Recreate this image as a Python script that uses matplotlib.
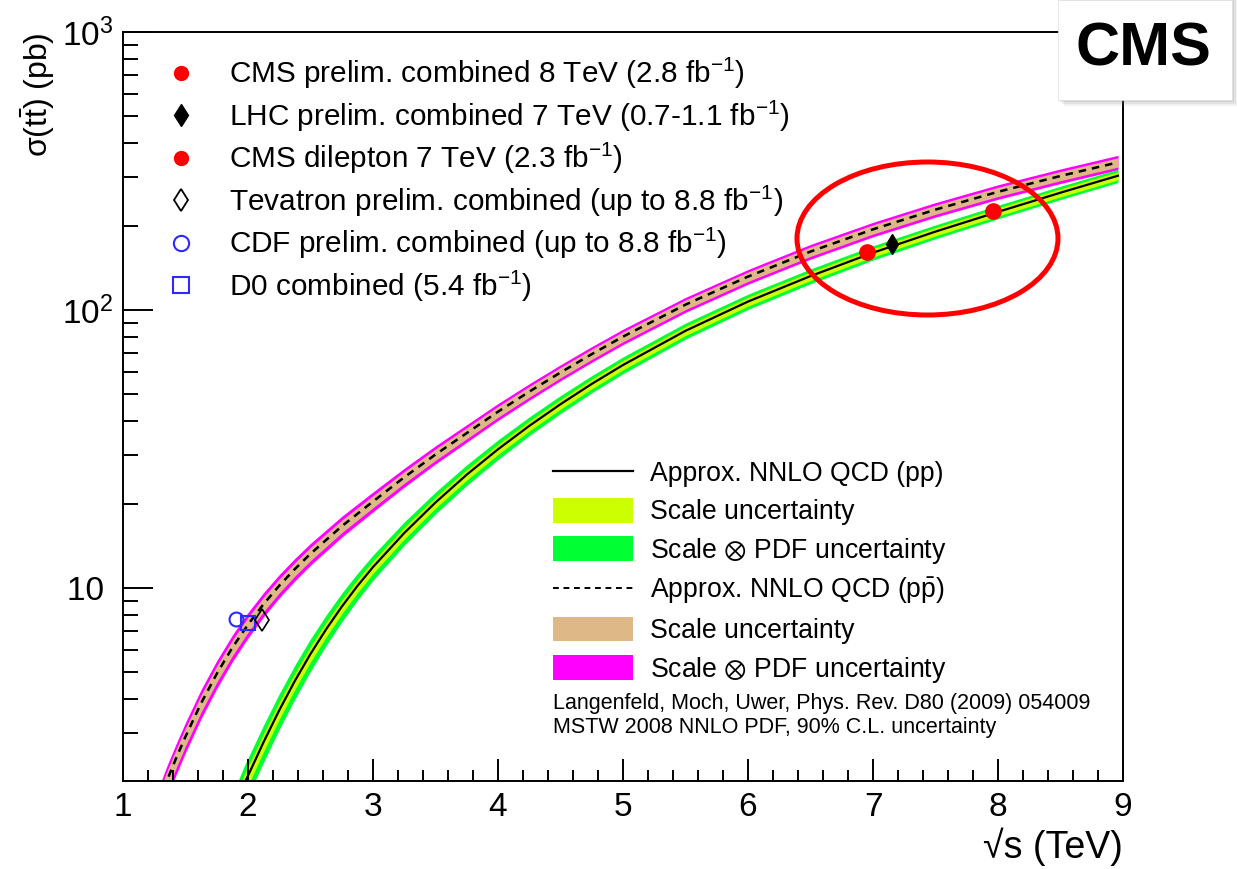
import numpy as np
import matplotlib
matplotlib.use("Agg")
import matplotlib.pyplot as plt
from matplotlib.lines import Line2D
from matplotlib.patches import Patch, Ellipse, Rectangle
from matplotlib.ticker import MultipleLocator, FixedLocator, FixedFormatter, LogLocator, NullFormatter

plt.rcParams['font.family'] = ['Liberation Sans', 'DejaVu Sans']
plt.rcParams['mathtext.fontset'] = 'custom'
plt.rcParams['mathtext.rm'] = 'Liberation Sans'
plt.rcParams['mathtext.it'] = 'Liberation Sans:italic'
plt.rcParams['mathtext.bf'] = 'Liberation Sans:bold'
plt.rcParams['mathtext.sf'] = 'Liberation Sans'
plt.rcParams['mathtext.fallback'] = 'stixsans'

# ---------------- data ----------------
# pp theory (Approx. NNLO QCD), sqrt(s) in TeV, sigma in pb
pp_sqrts = [1.85, 1.9, 1.98, 2.0, 2.125, 2.25, 2.375, 2.5, 2.625, 2.75, 2.875, 3.0, 3.25, 3.5,
            3.75, 4.0, 4.25, 4.5, 4.75, 5.0, 5.5, 6.0, 6.5, 7.0, 7.5, 8.0, 8.5, 8.96]
pp_sigma = [1.48, 1.66, 2.02, 2.11, 2.79, 3.63, 4.63, 5.79, 7.10, 8.56, 10.16, 11.89, 15.76, 20.3,
            25.56, 31.54, 38.28, 45.81, 54.2, 63.39, 84.14, 107.2, 132.4, 160.7, 191.4, 225.4, 264.2, 304.1]
pp_scale_rel = [0.08, 0.08, 0.08, 0.078, 0.075, 0.072, 0.068, 0.065, 0.062, 0.058, 0.055, 0.052, 0.049, 0.046,
                0.044, 0.042, 0.041, 0.040, 0.040, 0.039, 0.038, 0.037, 0.036, 0.035, 0.035, 0.034, 0.034, 0.034]
pp_total_rel = [0.16, 0.16, 0.16, 0.158, 0.152, 0.146, 0.14, 0.133, 0.125, 0.118, 0.11, 0.104, 0.096, 0.09,
                0.085, 0.081, 0.077, 0.074, 0.071, 0.069, 0.066, 0.063, 0.061, 0.059, 0.057, 0.056, 0.055, 0.055]

# ppbar theory
ppbar_sqrts = [1.25, 1.30, 1.35, 1.425, 1.5, 1.625, 1.75, 1.875, 2.0, 2.125, 2.25, 2.375, 2.5, 2.75,
               3.0, 3.25, 3.5, 4.0, 4.25, 4.5, 4.75, 5.0, 5.5, 6.0, 6.5, 7.0, 7.5, 8.0, 8.5, 8.96]
ppbar_sigma = [1.53, 1.76, 2.02, 2.44, 2.92, 3.85, 4.91, 6.10, 7.38, 8.75, 10.19, 11.69, 13.27, 16.67,
               20.46, 25.0, 30.2, 43.05, 50.82, 59.57, 69.34, 80.17, 104.5, 131.8, 162.2, 195.0, 229.6,
               266.1, 303.4, 339.6]
ppbar_scale_rel = [0.08, 0.08, 0.08, 0.077, 0.074, 0.071, 0.068, 0.065, 0.062, 0.06, 0.058, 0.056, 0.055, 0.052,
                   0.05, 0.048, 0.047, 0.045, 0.044, 0.043, 0.042, 0.041, 0.04, 0.039, 0.039, 0.038, 0.038,
                   0.038, 0.038, 0.038]
ppbar_total_rel = [0.13, 0.13, 0.13, 0.127, 0.124, 0.12, 0.115, 0.11, 0.105, 0.1, 0.096, 0.093, 0.09, 0.086,
                   0.082, 0.078, 0.075, 0.07, 0.068, 0.066, 0.065, 0.064, 0.062, 0.061, 0.061, 0.06, 0.06,
                   0.06, 0.06, 0.06]

# measurements (x positions shifted for visibility as in the original)
cms8_x, cms8_y = [7.96], [227.0]
lhc7_x, lhc7_y = [7.15], [173.0]
cmsdil7_x, cmsdil7_y = [6.95], [162.0]
tev_x, tev_y = [2.11], [7.65]
cdf_x, cdf_y = [1.90], [7.7]
d0_x, d0_y = [2.00], [7.5]

meas_labels = [r"CMS prelim. combined 8 TeV (2.8 fb$^{-1}$)",
               r"LHC prelim. combined 7 TeV (0.7-1.1 fb$^{-1}$)",
               r"CMS dilepton 7 TeV (2.3 fb$^{-1}$)",
               r"Tevatron prelim. combined (up to 8.8 fb$^{-1}$)",
               r"CDF prelim. combined (up to 8.8 fb$^{-1}$)",
               r"D0 combined (5.4 fb$^{-1}$)"]
theory_labels = [r"Approx. NNLO QCD (pp)",
                 r"Scale uncertainty",
                 r"Scale $\otimes$ PDF uncertainty",
                 r"Approx. NNLO QCD (p$\bar{\mathrm{p}}$)",
                 r"Scale uncertainty",
                 r"Scale $\otimes$ PDF uncertainty"]
x_ticks = [1, 2, 3, 4, 5, 6, 7, 8, 9]
y_ticks = [10, 100, 1000]
y_ticklabels = ['10 ', r'$10^{2}$', r'$10^{3}$']

# ---------------- colours ----------------
c_yellow = '#ccff00'
c_green = '#00ff33'
c_tan = '#deb887'
c_mag = '#ff00ff'
c_blue = '#2b2bff'

W, H = 1237, 869
fig = plt.figure(figsize=(W / 100, H / 100), dpi=100)
ax = fig.add_axes([123 / W, 1 - 781 / H, 1000 / W, 749 / H])

def arr(a):
    return np.asarray(a, dtype=float)

# ppbar bands
ax.fill_between(arr(ppbar_sqrts), arr(ppbar_sigma) * (1 - arr(ppbar_total_rel)),
                arr(ppbar_sigma) * (1 + arr(ppbar_total_rel)), color=c_mag, lw=0, zorder=1)
ax.fill_between(arr(ppbar_sqrts), arr(ppbar_sigma) * (1 - arr(ppbar_scale_rel)),
                arr(ppbar_sigma) * (1 + arr(ppbar_scale_rel)), color=c_tan, lw=0, zorder=1.1)
# pp bands
ax.fill_between(arr(pp_sqrts), arr(pp_sigma) * (1 - arr(pp_total_rel)),
                arr(pp_sigma) * (1 + arr(pp_total_rel)), color=c_green, lw=0, zorder=1.2)
ax.fill_between(arr(pp_sqrts), arr(pp_sigma) * (1 - arr(pp_scale_rel)),
                arr(pp_sigma) * (1 + arr(pp_scale_rel)), color=c_yellow, lw=0, zorder=1.3)
# lines
ax.plot(pp_sqrts, pp_sigma, color='black', lw=1.6, zorder=2)
ax.plot(ppbar_sqrts, ppbar_sigma, color='black', lw=1.8, dashes=(3.0, 2.4), zorder=2)

# measurements
ax.plot(cdf_x, cdf_y, ls='none', marker='o', ms=10, mfc='none', mec=c_blue, mew=1.5, zorder=3)
ax.plot(d0_x, d0_y, ls='none', marker='s', ms=10, mfc='none', mec=c_blue, mew=1.5, zorder=3)
ax.plot(tev_x, tev_y, ls='none', marker='d', ms=11.5, mfc='none', mec='black', mew=1.2, zorder=3)
ax.plot(cmsdil7_x, cmsdil7_y, ls='none', marker='o', ms=11, color='red', zorder=3)
ax.plot(lhc7_x, lhc7_y, ls='none', marker='d', ms=10, color='black', zorder=3)
ax.plot(cms8_x, cms8_y, ls='none', marker='o', ms=11, color='red', zorder=3)

# axes
ax.set_yscale('log')
ax.set_xlim(1, 9)
ax.set_ylim(2.02, 1000)
ax.xaxis.set_major_locator(FixedLocator(x_ticks))
ax.xaxis.set_minor_locator(MultipleLocator(0.2))
ax.yaxis.set_major_locator(FixedLocator(y_ticks))
ax.yaxis.set_major_formatter(FixedFormatter(y_ticklabels))
ax.yaxis.set_minor_locator(LogLocator(base=10, subs=np.arange(2, 10)))
ax.yaxis.set_minor_formatter(NullFormatter())
for s in ax.spines.values():
    s.set_linewidth(1.4)
ax.tick_params(which='both', direction='in', top=False, right=False, width=1.4, labelsize=24)
ax.tick_params(axis='x', which='major', length=15.8, pad=8)
ax.tick_params(axis='x', which='minor', length=7.9)
ax.tick_params(axis='y', which='major', length=21.6, pad=7)
ax.tick_params(axis='y', which='minor', length=10.8)

ax.set_ylabel(r"σ(t$\bar{\mathrm{t}}$) (pb)", fontsize=23, loc='top')
ax.yaxis.set_label_coords(-0.066, 1.0)
ax.set_xlabel("√s (TeV)", fontsize=27, loc='right')
ax.xaxis.set_label_coords(1.0, -0.062)

# legend: measurements
h_meas = [Line2D([], [], ls='none', marker='o', ms=10, color='red'),
          Line2D([], [], ls='none', marker='d', ms=11.2, color='black'),
          Line2D([], [], ls='none', marker='o', ms=10, color='red'),
          Line2D([], [], ls='none', marker='d', ms=11.2, mfc='none', mec='black', mew=1.3),
          Line2D([], [], ls='none', marker='o', ms=11, mfc='none', mec=c_blue, mew=1.5),
          Line2D([], [], ls='none', marker='s', ms=11, mfc='none', mec=c_blue, mew=1.5)]
leg1 = ax.legend(h_meas, meas_labels, loc='upper left', bbox_to_anchor=(167 / W, 1 - 56 / H),
                 bbox_transform=fig.transFigure, frameon=False, fontsize=21.4,
                 handlelength=0.95, handletextpad=1.12, labelspacing=0.245,
                 borderpad=0, borderaxespad=0)
ax.add_artist(leg1)

h_th = [Line2D([], [], color='black', lw=1.6),
        Patch(facecolor=c_yellow, edgecolor='none'),
        Patch(facecolor=c_green, edgecolor='none'),
        Line2D([], [], color='black', lw=1.4, dashes=(3, 2.4)),
        Patch(facecolor=c_tan, edgecolor='none'),
        Patch(facecolor=c_mag, edgecolor='none')]
leg2 = ax.legend(h_th, theory_labels, loc='upper left', bbox_to_anchor=(553 / W, 1 - 460 / H),
                 bbox_transform=fig.transFigure, frameon=False, fontsize=19.2,
                 handlelength=3.0, handleheight=1.05, handletextpad=0.62, labelspacing=0.39,
                 borderpad=0, borderaxespad=0)

fig.text(553 / W, 1 - 704 / H, "Langenfeld, Moch, Uwer, Phys. Rev. D80 (2009) 054009",
         fontsize=15.5, va='center', ha='left')
fig.text(553 / W, 1 - 728 / H, "MSTW 2008 NNLO PDF, 90% C.L. uncertainty",
         fontsize=15.5, va='center', ha='left')

# red ellipse highlight
fig.add_artist(Ellipse((927.5 / W, 1 - 238.5 / H), 261 / W, 153 / H, transform=fig.transFigure,
                       fill=False, ec='red', lw=3.6, zorder=10))

# CMS box with shadow
for k, a in enumerate([0.10, 0.12, 0.15]):
    off = 6 - 2 * k
    fig.add_artist(Rectangle(((1058 + off) / W, 1 - (100 + off) / H), 174 / W, (100 + off) / H,
                             transform=fig.transFigure, facecolor='#777777', alpha=a,
                             edgecolor='none', zorder=11))
fig.add_artist(Rectangle((1058 / W, 1 - 100 / H), 174 / W, 100 / H, transform=fig.transFigure,
                         facecolor='white', edgecolor='#dddddd', lw=0.5, zorder=12))
fig.text(1143 / W, 1 - 50 / H, "CMS", fontsize=44, fontweight='bold', ha='center', va='center',
         zorder=13)

fig.savefig("out.png", dpi=100)
